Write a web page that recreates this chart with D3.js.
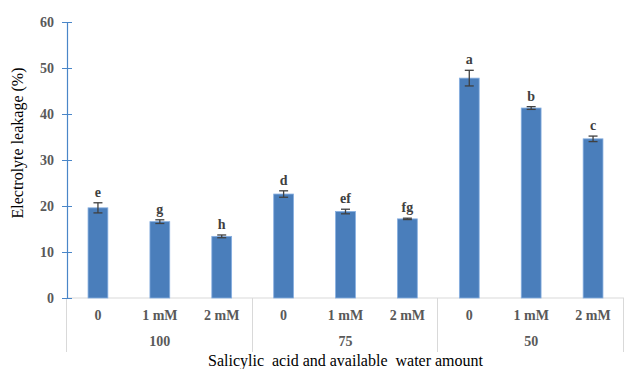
<!DOCTYPE html>
<html>
<head>
<meta charset="utf-8">
<script src="https://cdn.jsdelivr.net/npm/d3@7"></script>
<style>
  body { margin: 0; background: #fff; }
  svg { display: block; }
  svg text { font-family: "Liberation Serif", "DejaVu Serif", serif; }
</style>
</head>
<body>
<svg id="chart" width="624" height="369"></svg>
<script>
// Electrolyte leakage by salicylic acid level within each water regime
const groups = ["100", "75", "50"];
const treatments = ["0", "1 mM", "2 mM"];
const means = [19.6, 16.6, 13.4, 22.6, 18.8, 17.2, 47.8, 41.3, 34.6];
const errors = [1.1, 0.4, 0.3, 0.7, 0.5, 0.15, 1.7, 0.3, 0.6];
const letters = ["e", "g", "h", "d", "ef", "fg", "a", "b", "c"];
const yTicks = [0, 10, 20, 30, 40, 50, 60];

const rows = [];
groups.forEach((g, gi) => treatments.forEach((t, ti) => {
  const i = gi * treatments.length + ti;
  rows.push({ key: g + "|" + t, group: g, treatment: t, mean: means[i], err: errors[i], letter: letters[i] });
}));

const svg = d3.select("#chart");
const plotLeft = 67, plotRight = 624, plotTop = 22, plotBottom = 298;

const x = d3.scaleBand().domain(rows.map(d => d.key)).range([plotLeft, plotRight]).paddingInner(0.68).paddingOuter(0.34);
const y = d3.scaleLinear().domain([0, 60]).range([plotBottom, plotTop]);

const grey = "#595959";

// category axis baseline
svg.append("line").attr("x1", plotLeft).attr("x2", plotRight).attr("y1", plotBottom).attr("y2", plotBottom)
  .attr("stroke", "#d9d9d9").attr("stroke-width", 1);

// group separators
const groupWidth = (plotRight - plotLeft) / groups.length;
d3.range(groups.length + 1).forEach(i => {
  const gx = Math.round(plotLeft + i * groupWidth) - 0.5;
  svg.append("line").attr("x1", gx).attr("x2", gx).attr("y1", plotBottom).attr("y2", 352)
    .attr("stroke", "#d9d9d9").attr("stroke-width", 1);
});

// bars
svg.append("g").selectAll("rect").data(rows).join("rect")
  .attr("x", d => x(d.key))
  .attr("y", d => y(d.mean))
  .attr("width", x.bandwidth())
  .attr("height", d => y(0) - y(d.mean))
  .attr("fill", "#4a7ebb")
  .attr("stroke", "#86aee0")
  .attr("stroke-width", 0.8);

// error bars
const eb = svg.append("g").attr("stroke", "#404040").attr("stroke-width", 1.3);
rows.forEach(d => {
  const cx = x(d.key) + x.bandwidth() / 2;
  eb.append("line").attr("x1", cx).attr("x2", cx).attr("y1", y(d.mean + d.err)).attr("y2", y(d.mean - d.err));
  eb.append("line").attr("x1", cx - 4.5).attr("x2", cx + 4.5).attr("y1", y(d.mean + d.err)).attr("y2", y(d.mean + d.err));
  eb.append("line").attr("x1", cx - 4.5).attr("x2", cx + 4.5).attr("y1", y(d.mean - d.err)).attr("y2", y(d.mean - d.err));
});

// significance letters
svg.append("g").selectAll("text").data(rows).join("text")
  .attr("x", d => x(d.key) + x.bandwidth() / 2)
  .attr("y", d => y(d.mean + d.err) - 6)
  .attr("text-anchor", "middle")
  .attr("font-weight", "bold").attr("font-size", 14)
  .attr("fill", "#404040")
  .text(d => d.letter);

// value axis
const yAxis = svg.append("g").attr("transform", `translate(${plotLeft},0)`)
  .call(d3.axisLeft(y).tickValues(yTicks).tickSize(5).tickPadding(8));
yAxis.attr("font-family", null);
yAxis.select(".domain").attr("stroke", "#4a86c8").attr("stroke-width", 1.2).attr("d", `M0.5,${plotTop}V${plotBottom}`);
yAxis.selectAll(".tick line").attr("stroke", "#4a86c8").attr("x1", 5).attr("x2", -5);
yAxis.selectAll(".tick text").attr("font-weight", "bold")
  .attr("font-size", 14).attr("fill", grey);

// treatment labels
svg.append("g").selectAll("text").data(rows).join("text")
  .attr("x", d => x(d.key) + x.bandwidth() / 2)
  .attr("y", 320)
  .attr("text-anchor", "middle")
  .attr("font-weight", "bold").attr("font-size", 14).attr("fill", grey)
  .text(d => d.treatment);

// water regime labels
svg.append("g").selectAll("text").data(groups).join("text")
  .attr("x", (d, i) => plotLeft + (i + 0.5) * groupWidth)
  .attr("y", 346)
  .attr("text-anchor", "middle")
  .attr("font-weight", "bold").attr("font-size", 14).attr("fill", grey)
  .text(d => d);

// axis titles
svg.append("text")
  .attr("x", (plotLeft + plotRight) / 2).attr("y", 366)
  .attr("text-anchor", "middle")
  .attr("font-size", 16).attr("fill", "#000")
  .style("white-space", "pre")
  .text("Salicylic  acid and available  water amount");

svg.append("text")
  .attr("transform", "translate(23,143) rotate(-90)")
  .attr("text-anchor", "middle")
  .attr("font-size", 16).attr("fill", "#000")
  .text("Electrolyte leakage (%)");
</script>
</body>
</html>
